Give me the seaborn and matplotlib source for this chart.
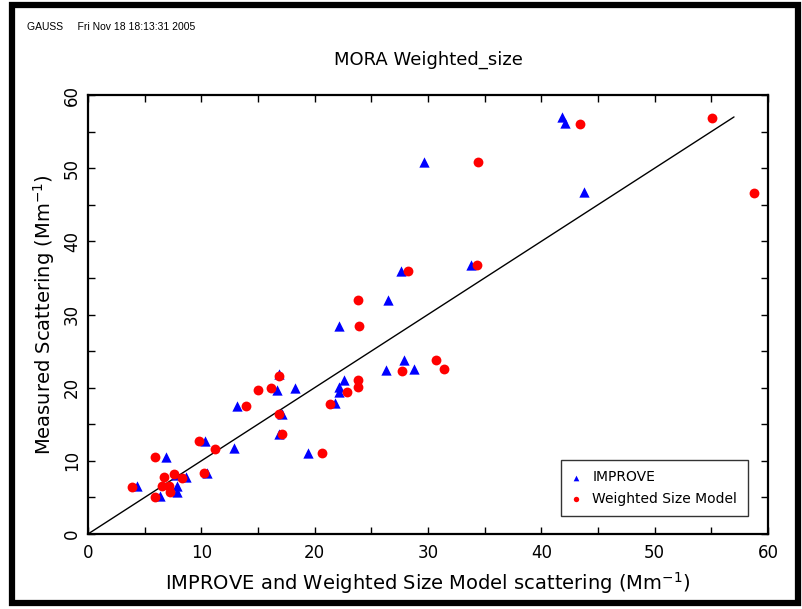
import matplotlib
matplotlib.use("Agg")
import matplotlib.pyplot as plt
import matplotlib.patches as patches
import seaborn as sns
import pandas as pd

# IMPROVE points (x = IMPROVE scattering, y = measured scattering)
improve_x = [4.30, 6.35, 6.88, 10.29, 10.53, 12.91, 13.18, 16.85, 16.65, 18.24,
             17.10, 16.88, 19.41, 22.59, 22.15, 22.15, 21.80, 27.60, 33.83, 26.44,
             22.12, 27.85, 26.32, 28.77, 41.83, 42.09, 43.74, 29.69,
             7.77, 8.65, 7.83, 7.88]
improve_y = [6.5, 5.2, 10.55, 12.7, 8.4, 11.7, 17.5, 21.8, 19.7, 19.95,
             16.4, 13.7, 11.13, 21.1, 20.1, 19.4, 17.9, 36.0, 36.8, 32.05,
             28.46, 23.82, 22.45, 22.6, 57.0, 56.2, 46.7, 50.9,
             8.04, 7.82, 6.55, 5.77]

# Weighted size model points
wsm_x = [3.85, 5.91, 5.88, 9.83, 10.23, 11.20, 13.94, 16.85, 16.12, 15.03,
         16.88, 17.12, 20.65, 23.79, 23.79, 22.85, 21.36, 28.20, 34.33, 23.85,
         23.94, 30.71, 27.71, 31.37, 55.06, 43.44, 58.77, 34.44,
         6.71, 7.59, 8.26, 6.50, 7.17, 7.24]
wsm_y = [6.4, 5.1, 10.5, 12.7, 8.4, 11.65, 17.5, 21.6, 19.95, 19.7,
         16.4, 13.6, 11.09, 21.05, 20.05, 19.35, 17.8, 35.96, 36.7, 32.0,
         28.4, 23.77, 22.3, 22.6, 56.9, 56.1, 46.6, 50.86,
         7.73, 8.18, 7.59, 6.55, 6.55, 5.68]

one_to_one = [0, 57]

sns.set_style("ticks")
plt.rcParams['font.family'] = ['DejaVu Sans']
plt.rcParams['text.color'] = 'black'
plt.rcParams['axes.labelcolor'] = 'black'
plt.rcParams['xtick.color'] = 'black'
plt.rcParams['ytick.color'] = 'black'

fig = plt.figure(figsize=(8.03, 6.09), dpi=100)
ax = fig.add_axes([88 / 803, 1 - 534 / 609, 680 / 803, 439 / 609])

imp = pd.DataFrame({"x": improve_x, "y": improve_y})
wsm = pd.DataFrame({"x": wsm_x, "y": wsm_y})
line = pd.DataFrame({"x": one_to_one, "y": one_to_one})

sns.lineplot(data=line, x="x", y="y", ax=ax, color="black", linewidth=1.0)
sns.scatterplot(data=imp, x="x", y="y", ax=ax, marker="^", color="#0000ff",
                s=55, linewidth=0, label="IMPROVE", zorder=3)
sns.scatterplot(data=wsm, x="x", y="y", ax=ax, marker="o", color="#ff0000",
                s=50, linewidth=0, label="Weighted Size Model", zorder=4)

ax.set_xlim(0, 60)
ax.set_ylim(0, 60)
ax.set_xticks(range(0, 61, 10))
ax.set_yticks(range(0, 61, 10))
ax.set_xticks(range(0, 61, 5), minor=True)
ax.set_yticks(range(0, 61, 5), minor=True)
ax.tick_params(which="both", direction="in", top=True, right=True,
               length=5, width=1.0, labelsize=12)
ax.tick_params(axis="x", pad=7)
ax.tick_params(axis="y", pad=5)
for lab in ax.get_yticklabels():
    lab.set_rotation(90)
    lab.set_va("center")
for sp in ax.spines.values():
    sp.set_linewidth(1.6)
    sp.set_color("black")

ax.set_xlabel("IMPROVE and Weighted Size Model scattering (Mm$^{-1}$)",
              fontsize=14, labelpad=6)
ax.set_ylabel("Measured Scattering (Mm$^{-1}$)", fontsize=14, labelpad=4)
ax.set_title("MORA Weighted_size", fontsize=13, pad=22)

leg = ax.legend(loc="lower right", bbox_to_anchor=(0.97, 0.04), frameon=True,
                fancybox=False, edgecolor="black", fontsize=10,
                markerscale=0.55, handlelength=0.6, handletextpad=0.9,
                borderpad=0.75, labelspacing=0.55, borderaxespad=0)
leg.get_frame().set_linewidth(1.0)

fig.text(27 / 803, 1 - 27 / 609, "GAUSS     Fri Nov 18 18:13:31 2005",
         fontsize=7.5, family="Liberation Sans", va="center", ha="left")

border = patches.Rectangle((12 / 803, 6 / 609), 786 / 803, 598 / 609,
                           transform=fig.transFigure, fill=False,
                           edgecolor="black", linewidth=4.5)
fig.patches.append(border)

fig.savefig("out.png", dpi=100)
